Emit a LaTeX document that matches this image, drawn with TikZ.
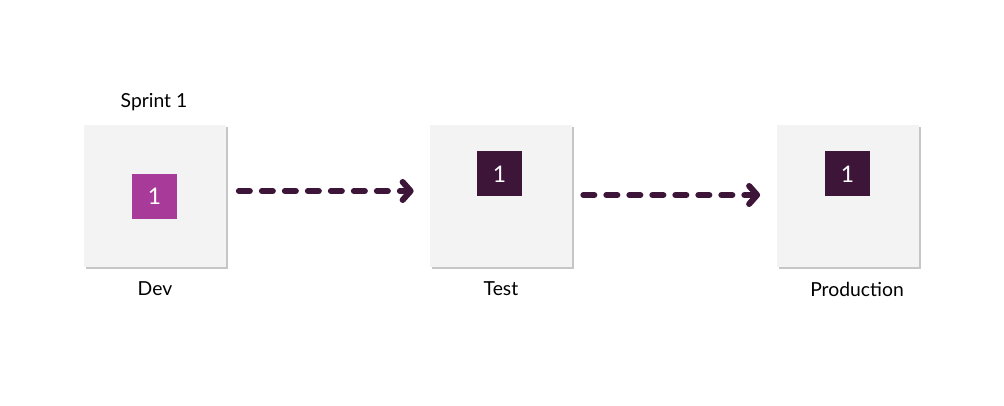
\documentclass[tikz,border=0pt]{standalone}
\usepackage{fontspec}
\setmainfont{Lato}
\usetikzlibrary{arrows.meta,shadows}
\definecolor{stagebg}{HTML}{F3F3F3}
\definecolor{itemdev}{HTML}{A83A9A}
\definecolor{itemdone}{HTML}{3C1539}
\begin{document}
\begin{tikzpicture}[font=\fontsize{11}{13}\selectfont]
            \useasboundingbox (0,0) rectangle (20.08,8.12);
            \begin{scope}[every node/.style={rectangle,fill=stagebg,minimum size=2.84cm,drop shadow={shadow xshift=0.04cm,shadow yshift=-0.04cm,opacity=0.45}}]
                \node (dev) at (3.10,4.20) {};
                \node (test) at (10.02,4.20) {};
                \node (prod) at (16.95,4.20) {};
            \end{scope}
            \begin{scope}[every node/.style={rectangle,minimum size=0.9cm,text=white,font=\fontsize{13}{15}\selectfont}]
                \node[fill=itemdev] (i1) at (3.09,4.19) {1};
                \node[fill=itemdone] (i2) at (9.99,4.64) {1};
                \node[fill=itemdone] (i3) at (16.95,4.64) {1};
            \end{scope}
            \node (sprint) at (3.08,6.08) {Sprint 1};
            \node (ldev) at (3.10,2.34) {Dev};
            \node (ltest) at (10.02,2.34) {Test};
            \node (lprod) at (17.14,2.34) {Production};
            \begin{scope}[every path/.style={draw=itemdone,line width=0.12cm,line cap=round,dash pattern=on 0.22cm off 0.24cm,-{Straight Barb[length=0.16cm,width=0.36cm,line cap=round,line join=round]}}]
                \draw ([yshift=0.1cm,xshift=0.25cm]dev.east) -- ([yshift=0.1cm,xshift=-0.32cm]test.west);
                \draw ([yshift=0.02cm,xshift=0.22cm]test.east) -- ([yshift=0.02cm,xshift=-0.32cm]prod.west);
            \end{scope}
        \end{tikzpicture}
\end{document}
